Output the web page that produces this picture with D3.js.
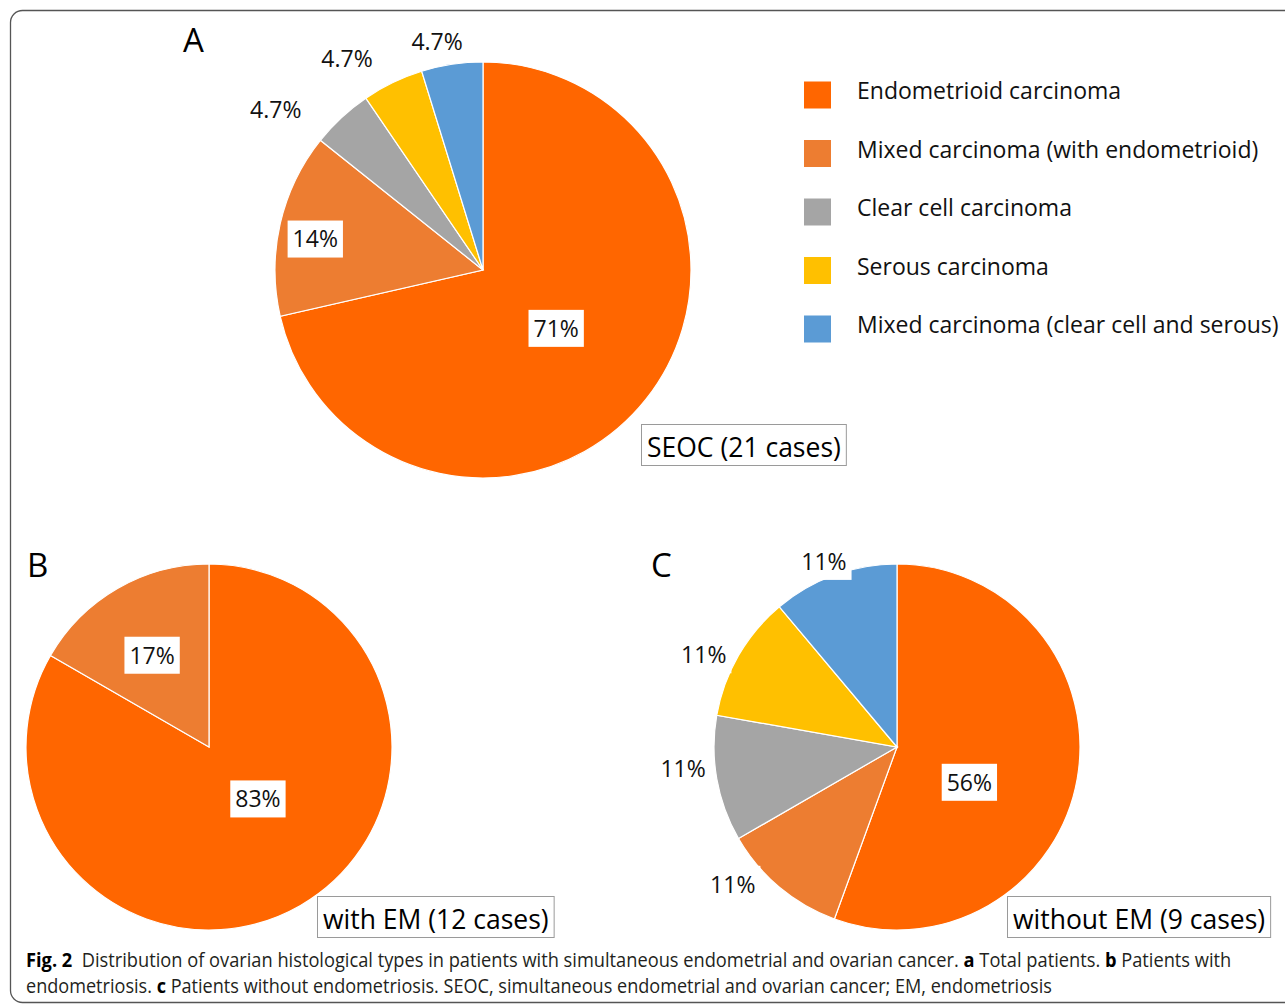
<!DOCTYPE html>
<html>
<head>
<meta charset="utf-8">
<script src="https://cdn.jsdelivr.net/npm/d3@7"></script>
<style>
  html, body { margin: 0; padding: 0; background: #fff; }
  svg { display: block; }
</style>
</head>
<body>
<svg width="1285" height="1006"></svg>
<script>
/* Data */

var categories = ["Endometrioid carcinoma", "Mixed carcinoma (with endometrioid)", "Clear cell carcinoma",
                  "Serous carcinoma", "Mixed carcinoma (clear cell and serous)"];
var colors = ["#FF6600", "#ED7D31", "#A5A5A5", "#FFC000", "#5B9BD5"];

var casesA = [15, 3, 1, 1, 1];
var casesB = [10, 2];
var casesC = [5, 1, 1, 1, 1];

var labelsA = ["71%", "14%", "4.7%", "4.7%", "4.7%"];
var labelsB = ["83%", "17%"];
var labelsC = ["56%", "11%", "11%", "11%", "11%"];

var titles = ["SEOC (21 cases)", "with EM (12 cases)", "without EM (9 cases)"];
var letters = ["A", "B", "C"];

var captionLine1 = [
  {t: "Fig. 2", b: true}, {t: "\u00a0\u00a0Distribution of ovarian histological types in patients with simultaneous endometrial and ovarian cancer. "},
  {t: "a", b: true}, {t: " Total patients. "}, {t: "b", b: true}, {t: " Patients with"}
];
var captionLine2 = [
  {t: "endometriosis. "}, {t: "c", b: true},
  {t: " Patients without endometriosis. SEOC, simultaneous endometrial and ovarian cancer; EM, endometriosis"}
];

/* Layout */

var svg = d3.select("svg");
var font = "'Open Sans', sans-serif";

// pie placement + label placement (angle nudge in degrees, distance as share of radius)
var panels = [
  {values: casesA, labels: labelsA, cx: 483, cy: 270, r: 208,
   nudge: [0, -2.4, -9.4, -7, -2.8], dist: [0.45, 0.82, 1.26, 1.21, 1.12],
   letter: {x: 183, y: 52}, title: {x: 647, y: 457}},
  {values: casesB, labels: labelsB, cx: 209, cy: 747, r: 183,
   nudge: [-13.3, -1.8], dist: [0.39, 0.59],
   letter: {x: 27, y: 577}, title: {x: 323, y: 929}},
  {values: casesC, labels: labelsC, cx: 897, cy: 747, r: 183,
   nudge: [16, 10.1, 4.1, -4.5, -1.5], dist: [0.44, 1.17, 1.175, 1.17, 1.09],
   letter: {x: 651, y: 577}, title: {x: 1013, y: 929}}
];

/* Frame */

svg.append("rect")
  .attr("x", 10.5)
  .attr("y", 10.5)
  .attr("width", 1320)
  .attr("height", 992)
  .attr("rx", 12)
  .attr("fill", "none")
  .attr("stroke", "#555")
  .attr("stroke-width", 1.3);

/* Pies */

var pie = d3.pie().sort(null).value((d) => d);

panels.forEach((p, pi) => {
  var g = svg.append("g").attr("transform", `translate(${p.cx},${p.cy})`);
  var arc = d3.arc().innerRadius(0).outerRadius(p.r);
  var arcs = pie(p.values);

  g.selectAll("path")
    .data(arcs)
    .enter().append("path")
    .attr("d", arc)
    .attr("fill", (d, i) => colors[i])
    .attr("stroke", "#fff")
    .attr("stroke-width", 1.2);

  // data labels, each on a white box
  arcs.forEach((d, i) => {
    var a = (d.startAngle + d.endAngle) / 2 + p.nudge[i] * Math.PI / 180;
    var x = Math.sin(a) * p.r * p.dist[i],
        y = -Math.cos(a) * p.r * p.dist[i];
    var lg = g.append("g");
    var txt = lg.append("text")
      .attr("x", x)
      .attr("y", y)
      .attr("dy", "0.36em")
      .attr("text-anchor", "middle")
      .attr("font-family", font)
      .attr("font-size", 23)
      .attr("fill", "#111")
      .text(p.labels[i]);
    var bb = txt.node().getBBox();
    lg.insert("rect", "text")
      .attr("x", x - bb.width / 2 - 5)
      .attr("y", y - 18.5)
      .attr("width", bb.width + 10)
      .attr("height", 37)
      .attr("fill", "#fff");
  });

  // panel letter
  svg.append("text")
    .attr("x", p.letter.x)
    .attr("y", p.letter.y)
    .attr("font-family", font)
    .attr("font-size", 33)
    .attr("fill", "#000")
    .text(letters[pi]);

  // boxed title
  var tt = svg.append("text")
    .attr("x", p.title.x)
    .attr("y", p.title.y)
    .attr("font-family", font)
    .attr("font-size", 26.5)
    .attr("fill", "#000")
    .text(titles[pi]);
  var tb = tt.node().getBBox();
  svg.insert("rect", () => tt.node())
    .attr("x", p.title.x - 5.5)
    .attr("y", p.title.y - 32.5)
    .attr("width", tb.width + 11)
    .attr("height", 41)
    .attr("fill", "#fff")
    .attr("stroke", "#9a9a9a")
    .attr("stroke-width", 1);
});

/* Legend */

var ly = d3.scalePoint().domain(categories).range([95, 329]);

var legend = svg.selectAll(".legend")
  .data(categories)
  .enter().append("g")
  .classed("legend", true)
  .attr("transform", (d) => `translate(0,${ly(d)})`);

legend.append("rect")
  .attr("x", 804)
  .attr("y", -13.5)
  .attr("width", 27)
  .attr("height", 27)
  .attr("fill", (d, i) => colors[i]);

legend.append("text")
  .attr("x", 857)
  .attr("y", 4)
  .attr("font-family", font)
  .attr("font-size", 23)
  .attr("fill", "#111")
  .text((d) => d);

/* Caption */

// draw at natural size, then squeeze horizontally to the caption width
var caption = (parts, y, width) => {
  var t = svg.append("text")
    .attr("x", 0)
    .attr("y", 0)
    .attr("font-family", font)
    .attr("font-size", 19.5)
    .attr("fill", "#231f20");
  parts.forEach((p) => {
    t.append("tspan")
      .attr("font-weight", p.b ? "bold" : null)
      .attr("fill", p.b ? "#000" : null)
      .text(p.t);
  });
  var natural = t.node().getComputedTextLength();
  t.attr("transform", `translate(26,${y}) scale(${width / natural},1)`);
};

caption(captionLine1, 967, 1206);
caption(captionLine2, 993, 1027);
</script>
</body>
</html>
